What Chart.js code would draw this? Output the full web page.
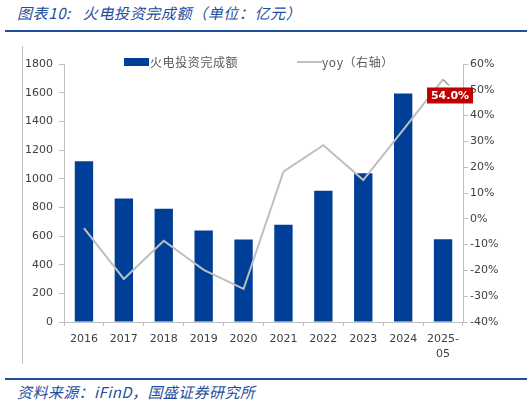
<!DOCTYPE html>
<html>
<head>
<meta charset="utf-8">
<script src="https://cdn.jsdelivr.net/npm/chart.js@4.4.1/dist/chart.umd.min.js"></script>
<style>
  body { margin: 0; width: 532px; height: 406px; background: #fff; position: relative; overflow: hidden;
         font-family: "Noto Sans CJK SC", sans-serif; }
  #title { position: absolute; left: 17px; top: 2px; font-size: 15px; font-style: italic; color: #1f4e9e; white-space: nowrap; letter-spacing: 0.6px; }
  #title span { margin-left: 12px; }
  .rule { position: absolute; left: 5px; width: 522px; height: 2px; background: #1f4e9e; }
  #frame { position: absolute; left: 22px; top: 46px; width: 1px; height: 318px; background: #bfbfbf; }
  #wrap { position: absolute; left: 23px; top: 40px; width: 490px; height: 330px; }
  #src { position: absolute; left: 17px; top: 381px; font-size: 15px; font-style: italic; color: #1f4e9e; white-space: nowrap; letter-spacing: 0.4px; }
  .lg { position: absolute; font-size: 12px; color: #595959; line-height: 14px; white-space: nowrap; letter-spacing: 0.6px; }
</style>
</head>
<body>
<div id="title">图表10:<span>火电投资完成额（单位：亿元）</span></div>
<div class="rule" style="top:30px"></div>
<div id="frame"></div>
<div id="wrap"><canvas id="chart"></canvas></div>
<div style="position:absolute;left:124px;top:58px;width:25px;height:8px;background:#003f98"></div>
<div class="lg" style="left:150px;top:55px">火电投资完成额</div>
<div style="position:absolute;left:297px;top:61px;width:25px;height:2px;background:#bfbfbf"></div>
<div class="lg" style="left:322px;top:55px">yoy（右轴）</div>
<div class="rule" style="top:378px"></div>
<div id="src">资料来源：iFinD，国盛证券研究所</div>

<script>
"use strict"

const labels = ['2016', '2017', '2018', '2019', '2020', '2021', '2022', '2023', '2024', ['2025-', '05']];
const invest = [1121, 862, 790, 639, 576, 678, 916, 1037, 1594, 578];   // 亿元
const yoy = [-3.6, -23.3, -8.5, -19.8, -27.2, 18.3, 28.5, 15.0, 34.5, 54.0]; // %

const tickFont = { family: 'DejaVu Sans', size: 11 };
const axisGrey = '#bfbfbf';

// red label on the last yoy point
const lastLabel = {
    id: 'lastLabel',
    afterDatasetsDraw(chart) {
        const meta = chart.getDatasetMeta(0);
        const pt = meta.data[meta.data.length - 1];
        const ctx = chart.ctx;
        const cx = pt.x + 7, cy = pt.y + 16;
        ctx.save();
        ctx.strokeStyle = '#404040';
        ctx.lineWidth = 1;
        ctx.beginPath();
        ctx.moveTo(pt.x, pt.y);
        ctx.lineTo(pt.x + 6, pt.y + 6);
        ctx.stroke();
        ctx.fillStyle = '#c00000';
        ctx.fillRect(cx - 23, cy - 8, 46, 16);
        ctx.fillStyle = '#ffffff';
        ctx.font = 'bold 11px "DejaVu Sans"';
        ctx.textAlign = 'center';
        ctx.textBaseline = 'middle';
        ctx.fillText(yoy[yoy.length - 1].toFixed(1) + '%', cx, cy + 0.5);
        ctx.restore();
    }
};

const ctx = document.getElementById('chart').getContext('2d');
new Chart(ctx, {
    data: {
        labels: labels,
        datasets: [{
            type: 'line',
            label: 'yoy（右轴）',
            data: yoy,
            yAxisID: 'y1',
            borderColor: '#bfbfbf',
            borderWidth: 2,
            pointRadius: 0,
            tension: 0,
            order: 0
        }, {
            type: 'bar',
            label: '火电投资完成额',
            data: invest,
            yAxisID: 'y',
            backgroundColor: '#003f98',
            categoryPercentage: 1,
            barPercentage: 0.46,
            order: 1
        }]
    },
    options: {
        responsive: true,
        maintainAspectRatio: false,
        animation: false,
        layout: { padding: { top: 24, left: 0, right: 0, bottom: 0 } },
        plugins: {
            legend: { display: false },
            tooltip: { enabled: false }
        },
        scales: {
            x: {
                offset: true,
                grid: { display: true, drawOnChartArea: false, offset: true, tickLength: 4, color: axisGrey },
                border: { color: axisGrey },
                ticks: { color: '#404040', font: { ...tickFont, lineHeight: 1.36 }, padding: 6, maxRotation: 0, autoSkip: false },
                afterFit: s => { s.height = 48; }
            },
            y: {
                position: 'left',
                min: 0, max: 1800,
                ticks: { stepSize: 200, color: '#404040', font: tickFont, padding: 6, callback: v => String(v) },
                grid: { drawOnChartArea: false, tickLength: 5, color: axisGrey },
                border: { color: axisGrey },
                afterFit: s => { s.width = 41; }
            },
            y1: {
                position: 'right',
                min: -40, max: 60,
                ticks: { stepSize: 10, color: '#404040', font: tickFont, padding: 2, callback: v => v + '%' },
                grid: { drawOnChartArea: false, tickLength: 5, color: axisGrey },
                border: { color: axisGrey },
                afterFit: s => { s.width = 50; }
            }
        }
    },
    plugins: [lastLabel]
});
</script>
</body>
</html>
